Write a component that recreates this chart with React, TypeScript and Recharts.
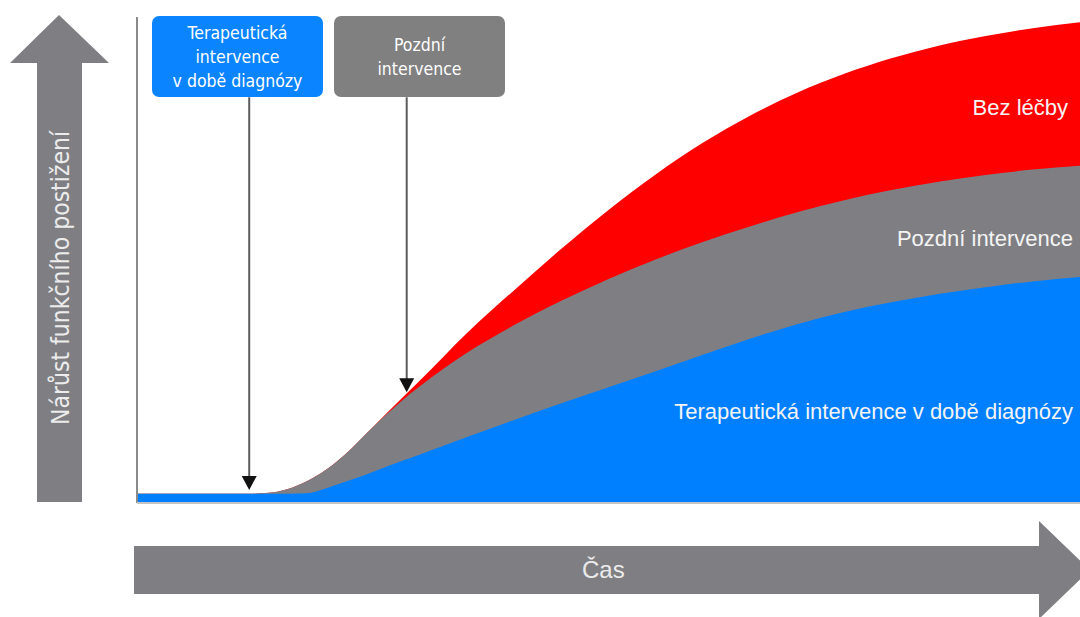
import React from "react";
import {
  ComposedChart,
  Area,
  XAxis,
  YAxis,
  ReferenceLine,
  ReferenceDot,
} from "recharts";

// time steps along the horizontal axis (0..100)
const time = [0, 5, 10, 12, 14, 16, 18, 20, 22, 25, 28, 30, 35, 40, 45, 50, 55, 60, 65, 70, 75, 80, 85, 90, 95, 100];

// functional impairment, 0..100
const noTreatment = [1.9, 1.9, 1.9, 1.9, 2.1, 2.9, 4.5, 6.8, 9.9, 15.6, 21.4, 25.2, 35.0, 43.8, 52.3, 60.3, 67.6, 74.1, 79.7, 84.4, 88.3, 91.5, 94.1, 96.1, 97.7, 98.9];
const lateIntervention = [1.9, 1.9, 1.9, 1.9, 2.1, 2.9, 4.5, 6.8, 9.9, 15.6, 20.9, 24.0, 30.9, 36.6, 41.6, 46.1, 50.1, 53.7, 56.9, 59.8, 62.3, 64.4, 66.1, 67.5, 68.6, 69.4];
const earlyIntervention = [1.9, 1.9, 1.9, 1.9, 1.9, 1.9, 2.0, 3.0, 4.3, 6.4, 8.6, 10.0, 13.6, 17.1, 20.5, 23.8, 27.1, 30.5, 33.8, 36.8, 39.3, 41.3, 43.0, 44.4, 45.6, 46.5];

const seriesNames = ["Bez léčby", "Pozdní intervence", "Terapeutická intervence v době diagnózy"];
const boxLines = [
  ["Terapeutická", "intervence", "v době diagnózy"],
  ["Pozdní", "intervence"],
];

// where the two callouts point: time, tip value, top of the shaft
const pointerTime = [11.9, 28.6];
const pointerTip = [2.7, 22.8];
const pointerTop = 83.5;

const data = time.map((t, i) => ({
  t,
  none: noTreatment[i],
  late: lateIntervention[i],
  early: earlyIntervention[i],
}));

const RED = "#ff0000";
const GREY = "#7f7f83";
const BLUE = "#0080ff";

const labelFont = "'Liberation Sans', Arial, sans-serif";
const condFont = "'DejaVu Sans Condensed', 'Liberation Sans Narrow', sans-serif";

const arrowHead = (props: any) => {
  const { cx, cy } = props;
  return (
    <polygon
      points={`${cx - 7.5},${cy - 14} ${cx + 7.5},${cy - 14} ${cx},${cy}`}
      fill="#111111"
    />
  );
};

const Box = ({ left, bg, lines }: { left: number; bg: string; lines: string[] }) => (
  <div
    style={{
      position: "absolute",
      left,
      top: 16,
      width: 171,
      height: 81,
      borderRadius: 7,
      background: bg,
      color: "#ffffff",
      fontFamily: condFont,
      fontSize: 17.5,
      lineHeight: "24px",
      display: "flex",
      flexDirection: "column",
      justifyContent: "center",
      alignItems: "center",
      textAlign: "center",
    }}
  >
    {lines.map((l) => (
      <div key={l}>{l}</div>
    ))}
  </div>
);

export default function App() {
  return (
    <div style={{ position: "absolute", left: 0, top: 0, width: 1080, height: 617, background: "#fff", overflow: "hidden" }}>
      <ComposedChart
        width={1080}
        height={617}
        data={data}
        margin={{ top: 17, right: 0, bottom: 114, left: 137 }}
      >
        <XAxis dataKey="t" type="number" domain={[0, 100]} hide />
        <YAxis type="number" domain={[0, 100]} hide />
        <ReferenceLine x={0} stroke="#8a8a8a" strokeWidth={2} />
        <Area type="monotone" dataKey="none" name={seriesNames[0]} stroke="none" fill={RED} fillOpacity={1} isAnimationActive={false} />
        <Area type="monotone" dataKey="late" name={seriesNames[1]} stroke="none" fill={GREY} fillOpacity={1} isAnimationActive={false} />
        <Area type="monotone" dataKey="early" name={seriesNames[2]} stroke="none" fill={BLUE} fillOpacity={1} isAnimationActive={false} />
        <ReferenceLine y={0} stroke="#c4c4c4" strokeWidth={2} />
        {pointerTime.map((t, i) => (
          <ReferenceLine
            key={`pl${i}`}
            segment={[
              { x: t, y: pointerTop },
              { x: t, y: pointerTip[i] + 2.2 },
            ]}
            stroke="#5c5c5c"
            strokeWidth={2}
          />
        ))}
        {pointerTime.map((t, i) => (
          <ReferenceDot key={`pd${i}`} x={t} y={pointerTip[i]} r={0} shape={arrowHead} />
        ))}
      </ComposedChart>

      <svg width={1080} height={617} style={{ position: "absolute", left: 0, top: 0, pointerEvents: "none" }}>
        {/* vertical axis arrow */}
        <polygon points="59,15 109,63 82,63 82,502 37,502 37,63 10,63" fill={GREY} />
        <text
          x={60}
          y={278}
          transform="rotate(-90 60 278)"
          textAnchor="middle"
          dominantBaseline="central"
          fontFamily={condFont}
          fontSize={24.5}
          fill="#ececec"
        >
          Nárůst funkčního postižení
        </text>
        {/* time arrow */}
        <polygon points="134,546 1039,546 1039,521 1090,570 1039,619 1039,594 134,594" fill={GREY} />
        <text x={582} y={578} fontFamily={labelFont} fontSize={24} fill="#ececec">
          Čas
        </text>
        {/* series labels */}
        <text x={1068} y={115} textAnchor="end" fontFamily={labelFont} fontSize={22} fill="#f4f4f4">
          {seriesNames[0]}
        </text>
        <text x={1073} y={246} textAnchor="end" fontFamily={labelFont} fontSize={22} fill="#f4f4f4">
          {seriesNames[1]}
        </text>
        <text x={1073} y={419} textAnchor="end" fontFamily={labelFont} fontSize={22} fill="#f4f4f4">
          {seriesNames[2]}
        </text>
      </svg>

      <Box left={152} bg="#0a84ff" lines={boxLines[0]} />
      <Box left={334} bg="#808080" lines={boxLines[1]} />
    </div>
  );
}
